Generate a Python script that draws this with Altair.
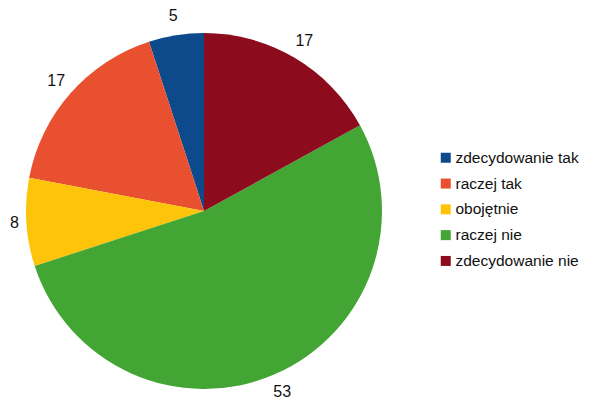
import altair as alt
import pandas as pd

categories = ["zdecydowanie tak", "raczej tak", "obojętnie", "raczej nie", "zdecydowanie nie"]
values = [5, 17, 8, 53, 17]
pie_order = [5, 4, 3, 2, 1]  # clockwise drawing order from 12 o'clock
colors = ["#0d4a8c", "#e8502f", "#fdc40a", "#43a534", "#8c0b1d"]

df = pd.DataFrame({"cat": categories, "val": values, "ord": pie_order})

CX, CY = 196, 203
R = 178

base = alt.Chart(df).encode(
    theta=alt.Theta("val:Q", stack=True),
    order=alt.Order("ord:Q", sort="ascending"),
)

arcs = base.mark_arc(outerRadius=R, stroke=None).encode(
    x=alt.value(CX),
    y=alt.value(CY),
    color=alt.Color(
        "cat:N",
        scale=alt.Scale(domain=categories, range=colors),
        sort=categories,
        legend=alt.Legend(
            title=None,
            orient="none",
            legendX=430,
            legendY=142,
            symbolType="square",
            symbolSize=100,
            symbolStrokeWidth=0,
            labelFont="Liberation Sans",
            labelFontSize=15.5,
            labelColor="#111111",
            rowPadding=8.8,
            labelOffset=2,
            padding=0,
        ),
    ),
)

text_style = dict(font="Liberation Sans", fontSize=16, color="#111111")

labels_far = base.mark_text(radius=197, **text_style).encode(
    x=alt.value(CX),
    y=alt.value(CY),
    text=alt.Text("val:Q"),
    opacity=alt.condition(alt.datum.cat == "obojętnie", alt.value(0), alt.value(1)),
)

labels_near = base.mark_text(radius=190, **text_style).encode(
    x=alt.value(CX),
    y=alt.value(CY),
    text=alt.Text("val:Q"),
    opacity=alt.condition(alt.datum.cat == "obojętnie", alt.value(1), alt.value(0)),
)

chart = (
    alt.layer(arcs, labels_far, labels_near)
    .properties(width=578, height=393, autosize=alt.AutoSizeParams(type="none"), padding=0)
    .configure_view(stroke=None)
)

chart.save("out.html", embed_options={"renderer": "svg", "actions": False})
